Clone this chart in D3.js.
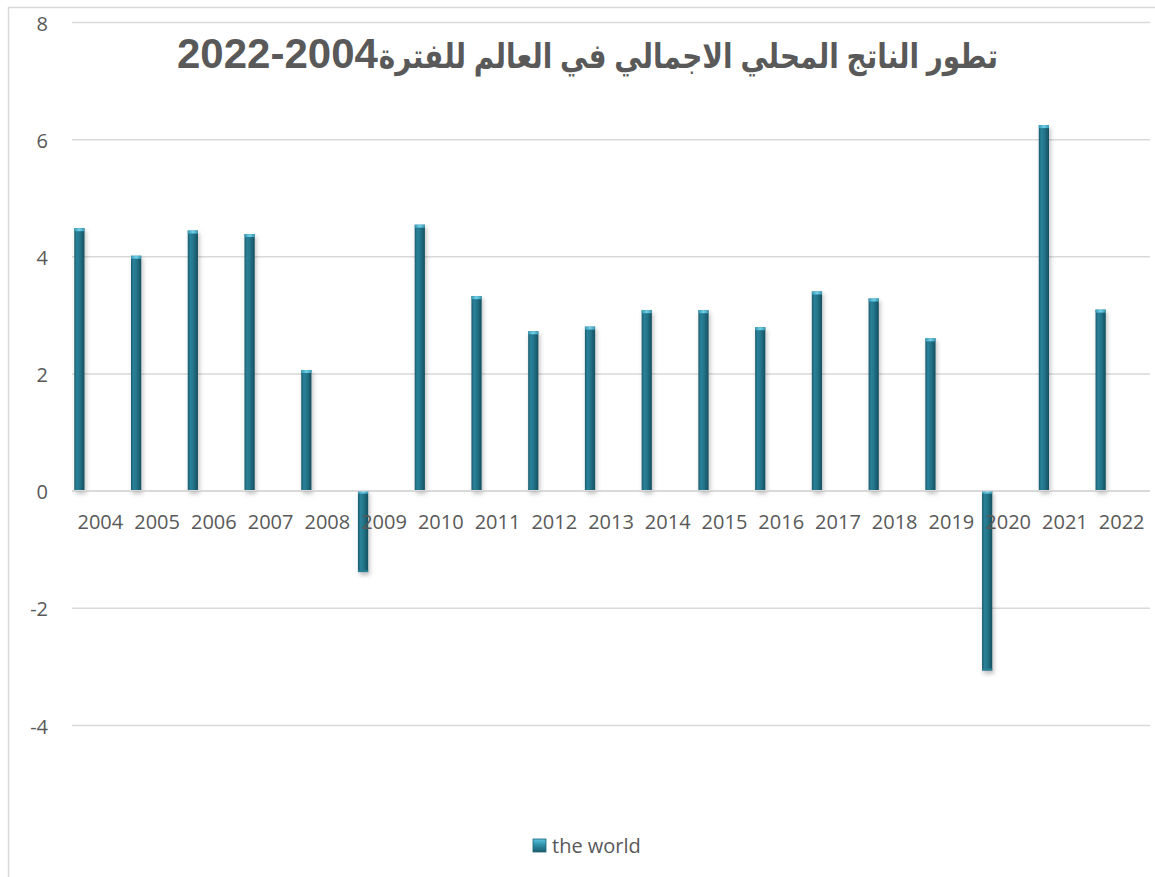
<!DOCTYPE html>
<html>
<head>
<meta charset="utf-8">
<script src="https://cdn.jsdelivr.net/npm/d3@7"></script>
<style>
  html, body { margin: 0; padding: 0; background: #ffffff; }
  svg { display: block; }
</style>
</head>
<body>
<svg id="chart" width="1155" height="877"></svg>
<script>
// World GDP growth (%), 2004–2022
const years = ["2004","2005","2006","2007","2008","2009","2010","2011","2012","2013",
               "2014","2015","2016","2017","2018","2019","2020","2021","2022"];
const gdpGrowth = [4.48, 4.01, 4.44, 4.38, 2.06, -1.39, 4.54, 3.32, 2.72, 2.80,
                   3.08, 3.08, 2.79, 3.40, 3.28, 2.60, -3.07, 6.24, 3.09];
const yTicks = [-4, -2, 0, 2, 4, 6, 8];
const seriesName = "the world";
const titleArabic = "تطور الناتج المحلي الاجمالي في العالم للفترة";
const titlePeriod = "2022-2004";

const W = 1155, H = 877;
const plot = { left: 72, right: 1150, top: 22, bottom: 725 };

const svg = d3.select("#chart");
const defs = svg.append("defs");

// horizontal shading for the column bodies
const grad = defs.append("linearGradient").attr("id", "barGrad")
  .attr("x1", "0").attr("x2", "1").attr("y1", "0").attr("y2", "0");
[["0%", "#1a5b6c"], ["25%", "#2a8199"], ["55%", "#237489"], ["100%", "#154f5e"]]
  .forEach(([o, c]) => grad.append("stop").attr("offset", o).attr("stop-color", c));

const capGrad = defs.append("linearGradient").attr("id", "capGrad")
  .attr("x1", "0").attr("x2", "1").attr("y1", "0").attr("y2", "0");
[["0%", "#3a9ab5"], ["50%", "#6fd0ea"], ["100%", "#3a9ab5"]]
  .forEach(([o, c]) => capGrad.append("stop").attr("offset", o).attr("stop-color", c));

const shadow = defs.append("filter").attr("id", "barShadow")
  .attr("x", "-60%").attr("y", "-10%").attr("width", "220%").attr("height", "130%");
shadow.append("feDropShadow").attr("dx", 1.5).attr("dy", 3).attr("stdDeviation", 2)
  .attr("flood-color", "#000").attr("flood-opacity", 0.25);

// chart frame
svg.append("rect").attr("x", 8.5).attr("y", 7.5).attr("width", W + 10).attr("height", H + 10)
  .attr("fill", "none").attr("stroke", "#d9d9d9").attr("stroke-width", 1.5);

const x = d3.scaleBand().domain(years).range([plot.left, plot.right]).padding(0);
const y = d3.scaleLinear().domain([-4, 8]).range([plot.bottom, plot.top]);

// gridlines + value labels
const yAxis = d3.axisLeft(y).tickValues(yTicks).tickSize(-(plot.right - plot.left)).tickPadding(24)
  .tickFormat(d => String(d));
const gy = svg.append("g").attr("transform", `translate(${plot.left},0)`).call(yAxis);
gy.select(".domain").remove();
gy.selectAll(".tick line").attr("stroke", "#d9d9d9").attr("stroke-width", 1.5);
gy.selectAll(".tick text")
  .attr("x", 48 - plot.left).attr("dy", "0.4em")
  .attr("fill", "#595959").style("font-family", "'Open Sans', sans-serif").style("font-size", "20px");

// columns
const bw = x.bandwidth();
const barX = d => x(d) + bw * 0.04;
const barW = bw * 0.18;

const bars = svg.append("g").selectAll("g.bar")
  .data(years.map((yr, i) => ({ yr, v: gdpGrowth[i] })))
  .join("g").attr("class", "bar").attr("filter", "url(#barShadow)");

bars.append("rect")
  .attr("x", d => barX(d.yr))
  .attr("y", d => y(Math.max(0, d.v)))
  .attr("width", barW)
  .attr("height", d => Math.abs(y(d.v) - y(0)))
  .attr("fill", "url(#barGrad)");

bars.append("rect")
  .attr("x", d => barX(d.yr))
  .attr("y", d => y(Math.max(0, d.v)))
  .attr("width", barW)
  .attr("height", 3)
  .attr("fill", "url(#capGrad)");

bars.filter(d => d.v < 0).append("rect")
  .attr("x", d => barX(d.yr))
  .attr("y", d => y(d.v) - 2)
  .attr("width", barW)
  .attr("height", 2)
  .attr("fill", "#2d7f93");

// category labels under the zero line
const xAxis = d3.axisBottom(x).tickSize(0).tickPadding(24);
const gx = svg.append("g").attr("transform", `translate(0,${y(0)})`).call(xAxis);
gx.select(".domain").remove();
gx.selectAll(".tick text")
  .attr("fill", "#595959").style("font-family", "'Open Sans', sans-serif").style("font-size", "20px");

// zero line
svg.append("line")
  .attr("x1", plot.left).attr("x2", plot.right)
  .attr("y1", y(0)).attr("y2", y(0))
  .attr("stroke", "#d9d9d9").attr("stroke-width", 1.5);

// title: Arabic words on the right, the period on the left
const titleRight = 998, titleLeft = 177, titleBase = 68;
const titleFont = "'Liberation Sans', Arial, 'DejaVu Sans', sans-serif";

const tPeriod = svg.append("text")
  .attr("y", titleBase)
  .attr("fill", "#595959")
  .style("font-family", titleFont).style("font-weight", "bold").style("font-size", "42px")
  .text(titlePeriod);
const periodW = tPeriod.node().getComputedTextLength();
tPeriod.attr("x", titleLeft);

const arabicW = titleRight - (titleLeft + periodW) - 1;
const tArabic = svg.append("text")
  .attr("x", titleRight).attr("y", titleBase)
  .attr("direction", "rtl")
  .attr("text-anchor", "start")
  .attr("fill", "#595959")
  .style("font-family", titleFont).style("font-weight", "bold").style("font-size", "42px")
  .text(titleArabic);
const natW = tArabic.node().getComputedTextLength();
if (natW > arabicW) {
  const fs = Math.max(34, 42 * arabicW / natW);
  tArabic.style("font-size", fs + "px");
  const w2 = tArabic.node().getComputedTextLength();
  if (w2 > arabicW) tArabic.attr("textLength", arabicW).attr("lengthAdjust", "spacingAndGlyphs");
}

// legend
const lg = svg.append("g").attr("transform", "translate(533,839)");
const lgGrad = defs.append("linearGradient").attr("id", "lgGrad")
  .attr("x1", "0").attr("x2", "0").attr("y1", "0").attr("y2", "1");
[["0%", "#5cc3e0"], ["45%", "#2f8fa9"], ["100%", "#1b5c6d"]]
  .forEach(([o, c]) => lgGrad.append("stop").attr("offset", o).attr("stop-color", c));
lg.append("rect").attr("width", 13).attr("height", 13).attr("fill", "url(#lgGrad)")
  .attr("stroke", "#1f6476").attr("stroke-width", 0.8);
lg.append("text").attr("x", 19).attr("y", 6.5).attr("dy", "0.36em")
  .attr("fill", "#595959").style("font-family", "'Open Sans', sans-serif").style("font-size", "20px")
  .text(seriesName);
</script>
</body>
</html>
